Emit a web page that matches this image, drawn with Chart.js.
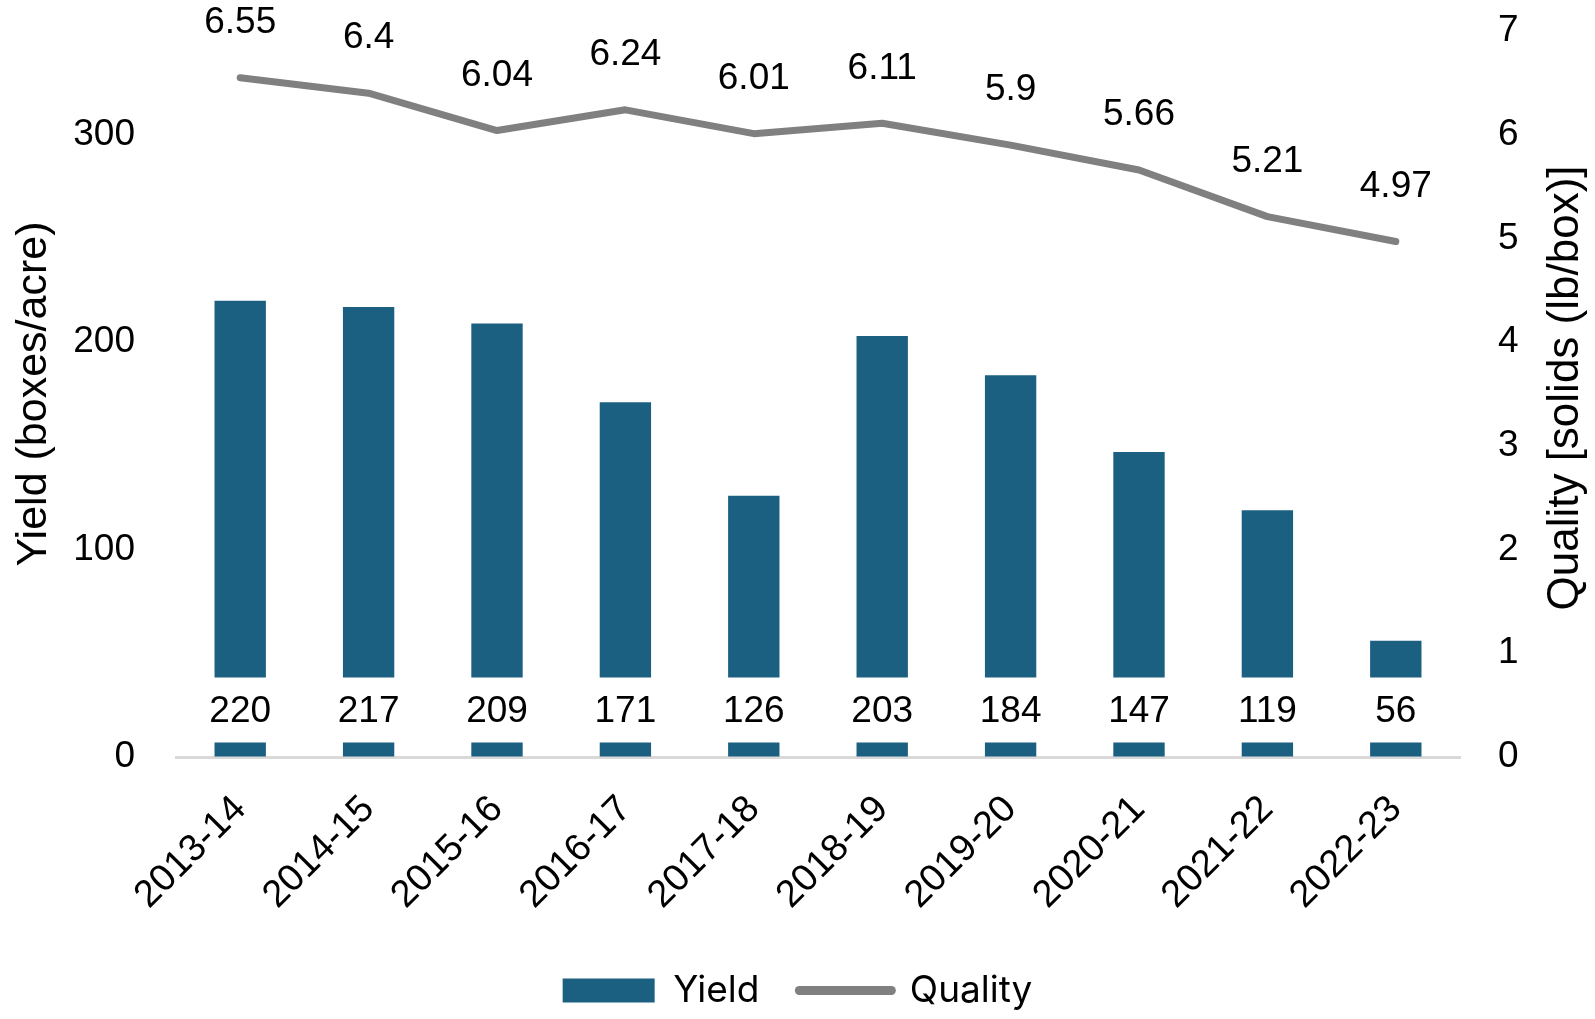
<!DOCTYPE html>
<html>
<head>
<meta charset="utf-8">
<script src="https://cdn.jsdelivr.net/npm/chart.js@4/dist/chart.umd.min.js"></script>
<style>
  html, body { margin: 0; padding: 0; background: #fff; overflow: hidden; }
  #wrap { width: 1595px; height: 1019px; position: relative; }
</style>
</head>
<body>
<div id="wrap"><canvas id="c"></canvas></div>
<script>
const seasons = ['2013-14','2014-15','2015-16','2016-17','2017-18','2018-19','2019-20','2020-21','2021-22','2022-23'];
const yieldValues = [220, 217, 209, 171, 126, 203, 184, 147, 119, 56];
const qualityValues = [6.55, 6.4, 6.04, 6.24, 6.01, 6.11, 5.9, 5.66, 5.21, 4.97];
const yieldTicks = [0, 100, 200, 300];
const qualityTicks = [0, 1, 2, 3, 4, 5, 6, 7];

const BAR_COLOR = '#1b5f81';
const LINE_COLOR = '#808080';
const TICK_FONT = {family: '"Liberation Sans", Arial, sans-serif', size: 37};
const TITLE_FONT = {family: '"Liberation Sans", Arial, sans-serif', size: 43};

const labelPlugin = {
  id: 'valueLabels',
  afterDatasetsDraw(chart) {
    const ctx = chart.ctx;
    ctx.save();
    ctx.font = '37px "Liberation Sans", Arial, sans-serif';
    ctx.textAlign = 'center';
    ctx.textBaseline = 'middle';
    const barMeta = chart.getDatasetMeta(0);
    barMeta.data.forEach((bar, i) => {
      const w = bar.width;
      ctx.fillStyle = '#ffffff';
      ctx.fillRect(bar.x - w / 2 - 1, bar.base - 79, w + 2, 65);
      ctx.fillStyle = '#000000';
      ctx.fillText(String(yieldValues[i]), bar.x, bar.base - 45);
    });
    const lineMeta = chart.getDatasetMeta(1);
    lineMeta.data.forEach((pt, i) => {
      ctx.fillText(String(qualityValues[i]), pt.x, pt.y - 55);
    });
    // right axis title, reading bottom-to-top
    const ca = chart.chartArea;
    ctx.translate(chart.width - 29, (ca.top + ca.bottom) / 2 - 6);
    ctx.rotate(-Math.PI / 2);
    ctx.font = '44px "Liberation Sans", Arial, sans-serif';
    ctx.fillText('Quality [solids (lb/box)]', 0, 0);
    ctx.restore();
  }
};

const hiddenTicks = (len) => ({
  display: true, drawOnChartArea: false, drawTicks: true,
  tickLength: len, tickColor: 'rgba(0,0,0,0)', color: 'rgba(0,0,0,0)'
});

new Chart(document.getElementById('c'), {
  data: {
    labels: seasons,
    datasets: [
      {
        type: 'bar',
        label: 'Yield',
        data: yieldValues,
        backgroundColor: BAR_COLOR,
        borderWidth: 0,
        yAxisID: 'y',
        barPercentage: 0.4,
        categoryPercentage: 1.0,
        order: 2
      },
      {
        type: 'line',
        label: 'Quality',
        data: qualityValues,
        borderColor: LINE_COLOR,
        backgroundColor: LINE_COLOR,
        borderWidth: 7,
        borderCapStyle: 'round',
        borderJoinStyle: 'round',
        tension: 0,
        pointRadius: 0,
        pointHoverRadius: 0,
        pointStyle: 'line',
        yAxisID: 'y1',
        order: 1
      }
    ]
  },
  options: {
    responsive: true,
    maintainAspectRatio: false,
    animation: false,
    devicePixelRatio: 1,
    layout: { padding: { top: 31, left: 0, right: 0, bottom: 0 } },
    plugins: {
      tooltip: { enabled: false },
      legend: {
        position: 'bottom',
        labels: {
          usePointStyle: true,
          pointStyleWidth: 92,
          boxHeight: 24,
          padding: 40,
          color: '#000',
          font: { family: 'Inter, "Open Sans", sans-serif', size: 37 },
          generateLabels(chart) {
            const items = Chart.defaults.plugins.legend.labels.generateLabels(chart);
            items.sort((a, b) => a.datasetIndex - b.datasetIndex);
            items.forEach(it => {
              if (it.datasetIndex === 0) {
                it.pointStyle = 'rect';
                it.lineWidth = 0;
                it.fillStyle = BAR_COLOR;
                it.strokeStyle = BAR_COLOR;
              } else {
                it.pointStyle = 'line';
                it.lineWidth = 9;
                it.lineCap = 'round';
                it.strokeStyle = LINE_COLOR;
                it.fillStyle = LINE_COLOR;
              }
            });
            return items;
          }
        }
      }
    },
    scales: {
      x: {
        type: 'category',
        offset: true,
        grid: hiddenTicks(30),
        border: { display: true, color: '#d9d9d9', width: 3 },
        ticks: {
          minRotation: 45, maxRotation: 45,
          color: '#000',
          font: {family: '"Liberation Sans", Arial, sans-serif', size: 38},
          padding: 0,
          labelOffset: 0,
          autoSkip: false
        },
        afterFit(s) { s.height = 175; }
      },
      y: {
        type: 'linear',
        position: 'left',
        min: 0, max: 350,
        grid: hiddenTicks(41),
        border: { display: false },
        ticks: {
          stepSize: 100,
          includeBounds: false,
          padding: 0,
          color: '#000',
          font: TICK_FONT,
          callback: v => (yieldTicks.includes(v) ? String(v) : '')
        },
        title: {
          display: true,
          text: 'Yield (boxes/acre)',
          color: '#000',
          font: TITLE_FONT,
          padding: { top: 8, bottom: 0 }
        },
        afterFit(s) { s.width = 176; }
      },
      y1: {
        type: 'linear',
        position: 'right',
        min: 0, max: 7,
        grid: hiddenTicks(38),
        border: { display: false },
        ticks: {
          stepSize: 1,
          padding: 0,
          color: '#000',
          font: TICK_FONT,
          callback: v => (qualityTicks.includes(v) ? String(v) : '')
        },
        afterFit(s) { s.width = 135; }
      }
    }
  },
  plugins: [labelPlugin]
});
</script>
</body>
</html>
